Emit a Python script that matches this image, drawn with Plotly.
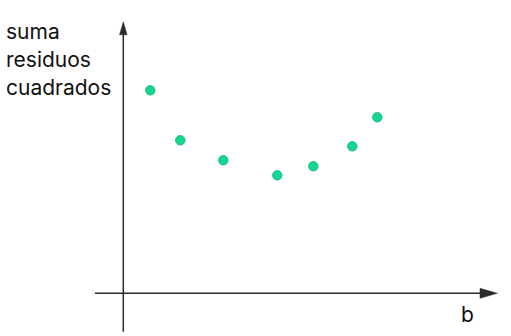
import plotly.graph_objects as go

# Data: slope b vs. sum of squared residuals (arbitrary units)
b_values = [2.7, 5.7, 10.0, 15.4, 19.0, 22.9, 25.4]
ssr_values = [20.3, 15.3, 13.3, 11.8, 12.7, 14.7, 17.6]
y_label_lines = ["suma", "residuos", "cuadrados"]
x_label = "b"

W, H = 511, 336
x_range = [-12.33, 38.77]
y_range = [-4.27, 29.33]
FONT = "Inter"

fig = go.Figure()
fig.add_trace(go.Scatter(
    x=b_values, y=ssr_values, mode="markers",
    marker=dict(size=9.5, color="#14d68f", line=dict(color="#0fb577", width=0.8)),
    hoverinfo="skip", showlegend=False,
))

axis_color = "#2b2b2b"
# y axis line and arrow
fig.add_shape(type="line", x0=0, x1=0, y0=-3.84, y1=26.0, xref="x", yref="y",
              line=dict(color=axis_color, width=1.5))
fig.add_shape(type="path", xref="x", yref="y",
              path="M -0.38 25.85 L 0 27.15 L 0.38 25.85 Z",
              fillcolor=axis_color, line=dict(color=axis_color, width=0.5))
# x axis line and arrow
fig.add_shape(type="line", x0=-2.83, x1=35.9, y0=0, y1=0, xref="x", yref="y",
              line=dict(color=axis_color, width=1.5))
fig.add_shape(type="path", xref="x", yref="y",
              path="M 35.67 0.5 L 37.4 0 L 35.67 -0.5 Z",
              fillcolor=axis_color, line=dict(color=axis_color, width=0.5))

# y label: one annotation per line for exact spacing (~28 px)
line_centers_px = [31.5, 59.3, 87.1]
for txt, cy in zip(y_label_lines, line_centers_px):
    fig.add_annotation(x=4 / W, y=1 - cy / H, xref="paper", yref="paper",
                       xanchor="left", yanchor="middle", align="left",
                       text=txt, showarrow=False,
                       font=dict(family=FONT, size=21, color="#111111"))
fig.add_annotation(x=34.37, y=-2.15, xref="x", yref="y",
                   text=x_label, showarrow=False,
                   font=dict(family=FONT, size=21, color="#111111"))

fig.update_layout(
    width=W, height=H, margin=dict(l=0, r=0, t=0, b=0),
    paper_bgcolor="white", plot_bgcolor="white",
    xaxis=dict(range=x_range, visible=False, fixedrange=True),
    yaxis=dict(range=y_range, visible=False, fixedrange=True),
)
fig.write_html("out.html")
